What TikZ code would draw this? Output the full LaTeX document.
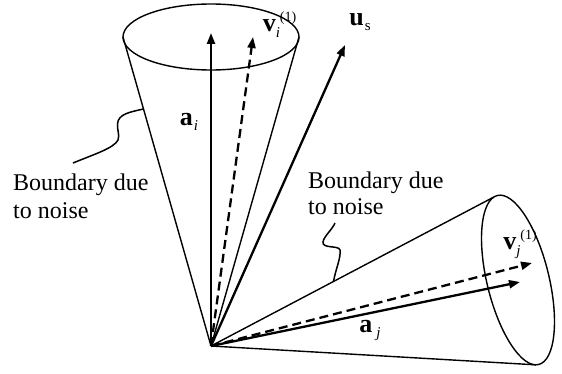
\documentclass[tikz,border=0pt]{standalone}
\usepackage{fontspec}
\setmainfont{Liberation Serif}
\usetikzlibrary{arrows.meta,calc}
\newcommand{\bsub}[3][0pt]{\textbf{#2}\hspace{#1}\raisebox{-5pt}{\fontsize{15}{15}\selectfont #3}}
\newcommand{\bsubsup}[3]{\textbf{#1}\makebox[0pt][l]{\raisebox{-6pt}{\fontsize{15}{15}\selectfont\textit{#2}}}\hspace{4pt}\raisebox{10pt}{\fontsize{14}{14}\selectfont #3}}
\begin{document}
\begin{tikzpicture}[x=1pt,y=1pt,
  cone/.style={line width=1.4pt},
  vec/.style={line width=2.3pt,-{Triangle[length=11pt,width=8pt]}},
  dvec/.style={vec,dash pattern=on 9pt off 5pt},
  wave/.style={line width=1.5pt},
  lab/.style={inner sep=0pt,font=\fontsize{26}{26}\selectfont},
  txt/.style={inner sep=0pt,align=left,anchor=north west}]
\useasboundingbox (0,0) rectangle (562,373);
\coordinate (O) at (211,27);
% upper cone
\coordinate (ci) at (211,336);
\coordinate (il) at (123,336);
\coordinate (ir) at (299,336);
\draw[cone] (ci) ellipse [x radius=88, y radius=33];
\draw[cone] (O) -- (il);
\draw[cone] (O) -- (ir);
% right cone
\begin{scope}[shift={(518,93)},rotate=13.7]
  \coordinate (cj) at (0,0);
  \draw[cone] (cj) ellipse [x radius=31, y radius=87];
  \coordinate (jt) at (97:31 and 87);
  \coordinate (jb) at (265:31 and 87);
\end{scope}
\draw[cone] (O) -- (jt);
\draw[cone] (O) -- (jb);
% vectors
\coordinate (aiT) at (211,340);
\coordinate (viT) at (253,336);
\coordinate (usT) at (345,328);
\coordinate (ajT) at (520,91);
\coordinate (vjT) at (532,110);
\draw[vec] (O) -- (aiT);
\draw[dvec] (O) -- (viT);
\draw[vec] (O) -- (usT);
\draw[vec] (O) -- (ajT);
\draw[dvec] (O) -- (vjT);
% labels
\node[lab] (lai) at (189,251.5) {\bsub[1pt]{a}{\textit{i}}};
\node[lab] (laj) at (370,43) {\bsub[4pt]{a}{\textit{j}}};
\node[lab] (lus) at (360,351) {\bsub[1pt]{u}{s}};
\node[lab] (lvi) at (279.5,348.5) {\bsubsup{v}{i}{(1)}};
\node[lab] (lvj) at (520,129) {\bsubsup{v}{j}{(1)}};
% boundary texts
\node[txt,font=\fontsize{24}{28}\selectfont] (bl) at (13,199) {Boundary due\\to noise};
\node[txt,font=\fontsize{24}{26}\selectfont] (br) at (308,201) {Boundary due\\to noise};
% wavy leaders
\coordinate (wl) at ($(O)!0.767!(il)$);
\coordinate (wr) at ($(O)!0.433!(jt)$);
\coordinate (wlend) at (73,210);
\coordinate (wrend) at (335,150);
\draw[wave] (wl) .. controls (130,261) and (118,259) .. (117.5,249)
  .. controls (117,243) and (120,238) .. (118,233)
  .. controls (114,225) and (95,219) .. (wlend);
\draw[wave] (wr) .. controls (336,105) and (341,115) .. (340,123)
  .. controls (339,128) and (322,124) .. (323,131)
  .. controls (324,137) and (332,143) .. (wrend);
\end{tikzpicture}
\end{document}
